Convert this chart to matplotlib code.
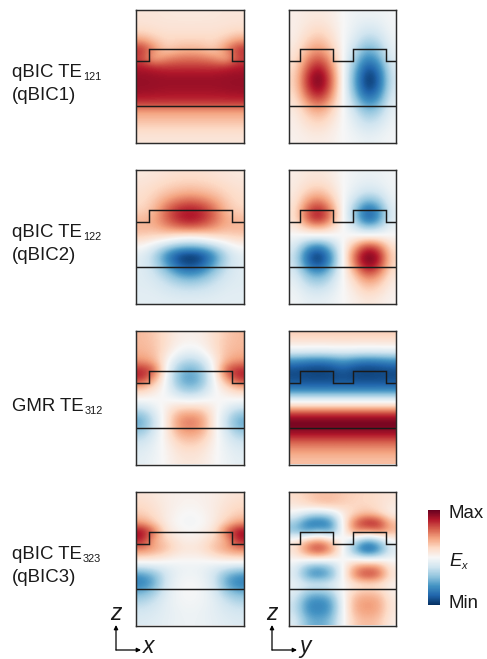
"""
Mode profiles of Ex for the qBIC / GMR resonances, xz and yz cuts.
Field grids are coarse readings from the figure (-1 = Min, 1 = Max).
"""
import matplotlib
matplotlib.use("Agg")
import matplotlib.pyplot as plt
from matplotlib.cm import ScalarMappable
from matplotlib.colors import Normalize
import numpy as np

plt.rcParams["font.family"] = ["Liberation Sans", "DejaVu Sans"]

W, H = 487, 659

qbic1_x = [
    [.12, .12, .11, .10, .10, .10, .11, .12, .12],
    [.14, .13, .12, .12, .12, .12, .12, .13, .14],
    [.20, .17, .15, .15, .15, .15, .15, .17, .20],
    [.42, .28, .20, .22, .22, .22, .20, .28, .42],
    [.75, .50, .24, .32, .34, .32, .24, .50, .75],
    [.66, .30, .46, .52, .54, .52, .46, .30, .66],
    [.80, .76, .72, .72, .72, .72, .72, .76, .80],
    [.87, .86, .85, .85, .85, .85, .85, .86, .87],
    [.88, .87, .86, .86, .86, .86, .86, .87, .88],
    [.84, .83, .82, .82, .82, .82, .82, .83, .84],
    [.72, .72, .72, .72, .72, .72, .72, .72, .72],
    [.40, .40, .40, .40, .40, .40, .40, .40, .40],
    [.30, .30, .30, .30, .30, .30, .30, .30, .30],
    [.19, .19, .19, .19, .19, .19, .19, .19, .19],
    [.12, .12, .12, .12, .12, .12, .12, .12, .12],
]
qbic1_y = [
    [.06, .09, .10, .08, .00, -.05, -.05, -.05, -.02],
    [.06, .11, .14, .10, .00, -.07, -.11, -.09, -.02],
    [.06, .15, .22, .14, .00, -.10, -.20, -.16, -.03],
    [.07, .23, .32, .20, .00, -.16, -.33, -.26, -.05],
    [.10, .33, .46, .28, .00, -.24, -.50, -.38, -.07],
    [.13, .45, .64, .38, .00, -.33, -.68, -.52, -.10],
    [.17, .60, .84, .50, .00, -.44, -.88, -.70, -.14],
    [.20, .72, 1.0, .60, .00, -.52, -1.0, -.82, -.17],
    [.20, .72, 1.0, .60, .00, -.52, -1.0, -.82, -.17],
    [.17, .60, .84, .50, .00, -.44, -.86, -.68, -.14],
    [.12, .42, .60, .36, .00, -.31, -.64, -.50, -.10],
    [.08, .27, .38, .23, .00, -.20, -.42, -.33, -.07],
    [.06, .18, .25, .15, .00, -.13, -.27, -.21, -.05],
    [.05, .11, .15, .09, .00, -.08, -.16, -.12, -.03],
    [.04, .07, .08, .06, .00, -.04, -.08, -.06, -.02],
]
qbic2_x = [
    [.10, .12, .14, .16, .16, .16, .14, .12, .10],
    [.13, .16, .20, .23, .24, .23, .20, .16, .13],
    [.16, .21, .28, .33, .36, .33, .28, .21, .16],
    [.18, .27, .42, .55, .60, .55, .42, .27, .18],
    [.22, .32, .58, .76, .82, .76, .58, .32, .22],
    [.32, .38, .58, .76, .84, .76, .58, .38, .32],
    [.34, .34, .44, .52, .56, .52, .44, .34, .34],
    [.22, .18, .14, .06, .02, .06, .14, .18, .22],
    [.02, -.10, -.26, -.38, -.42, -.38, -.26, -.10, .02],
    [-.10, -.28, -.62, -.90, -.98, -.90, -.62, -.28, -.10],
    [-.12, -.26, -.56, -.84, -.95, -.84, -.56, -.26, -.12],
    [-.12, -.20, -.36, -.58, -.66, -.58, -.36, -.20, -.12],
    [-.12, -.15, -.23, -.33, -.38, -.33, -.23, -.15, -.12],
    [-.11, -.12, -.16, -.19, -.21, -.19, -.16, -.12, -.11],
    [-.10, -.10, -.11, -.12, -.12, -.12, -.11, -.10, -.10],
]
qbic2_y = [
    [.07, .11, .12, .09, .00, -.05, -.07, -.06, -.03],
    [.08, .15, .18, .13, .00, -.07, -.11, -.09, -.03],
    [.09, .25, .32, .20, .00, -.12, -.22, -.18, -.04],
    [.11, .42, .56, .33, .00, -.24, -.50, -.38, -.06],
    [.14, .62, .82, .50, .00, -.38, -.84, -.62, -.10],
    [.14, .60, .82, .48, .00, -.36, -.84, -.60, -.10],
    [.08, .25, .32, .20, .00, -.15, -.34, -.25, -.05],
    [-.03, -.07, -.08, -.05, .00, .04, .08, .06, .02],
    [-.13, -.50, -.66, -.38, .00, .36, .68, .55, .13],
    [-.20, -.78, -1.0, -.62, .00, .60, 1.0, .84, .20],
    [-.19, -.72, -.95, -.58, .00, .54, .98, .78, .19],
    [-.13, -.46, -.60, -.36, .00, .33, .68, .52, .13],
    [-.08, -.28, -.36, -.22, .00, .19, .40, .31, .08],
    [-.05, -.16, -.20, -.13, .00, .11, .24, .18, .05],
    [-.03, -.09, -.10, -.07, .00, .06, .12, .09, .03],
]
gmr_x = [
    [.32, .26, .16, .07, .05, .07, .16, .26, .32],
    [.32, .28, .16, .05, .02, .05, .16, .28, .32],
    [.35, .30, .13, -.03, -.10, -.03, .13, .30, .35],
    [.45, .36, .05, -.22, -.32, -.22, .05, .36, .45],
    [.78, .65, .00, -.38, -.52, -.38, .00, .65, .78],
    [.75, .40, -.03, -.44, -.58, -.44, -.03, .40, .75],
    [.30, .15, -.03, -.32, -.44, -.32, -.03, .15, .30],
    [.05, .02, -.01, -.10, -.15, -.10, -.01, .02, .05],
    [-.15, -.06, .05, .14, .14, .14, .05, -.06, -.15],
    [-.42, -.18, .08, .38, .44, .38, .08, -.18, -.42],
    [-.52, -.22, .08, .45, .55, .45, .08, -.22, -.52],
    [-.35, -.15, .07, .36, .42, .36, .07, -.15, -.35],
    [-.20, -.10, .05, .22, .28, .22, .05, -.10, -.20],
    [-.13, -.07, .03, .14, .17, .14, .03, -.07, -.13],
    [-.10, -.05, .02, .10, .12, .10, .02, -.05, -.10],
]
gmr_y = [
    [.24, .24, .24, .24, .24, .24, .24, .24, .24],
    [.10, .10, .10, .10, .11, .10, .10, .10, .10],
    [-.15, -.15, -.16, -.15, -.14, -.15, -.16, -.15, -.15],
    [-.66, -.72, -.74, -.70, -.60, -.70, -.74, -.72, -.66],
    [-.90, -.92, -.94, -.92, -.84, -.92, -.94, -.92, -.90],
    [-.88, -.90, -.90, -.90, -.88, -.90, -.90, -.90, -.88],
    [-.75, -.75, -.75, -.75, -.75, -.75, -.75, -.75, -.75],
    [-.25, -.25, -.25, -.25, -.25, -.25, -.25, -.25, -.25],
    [.20, .20, .20, .20, .20, .20, .20, .20, .20],
    [.78, .78, .78, .78, .78, .78, .78, .78, .78],
    [1.0, 1.0, 1.0, 1.0, 1.0, 1.0, 1.0, 1.0, 1.0],
    [.86, .86, .86, .86, .86, .86, .86, .86, .86],
    [.60, .60, .60, .60, .60, .60, .60, .60, .60],
    [.42, .42, .42, .42, .42, .42, .42, .42, .42],
    [.30, .30, .30, .30, .30, .30, .30, .30, .30],
]
qbic3_x = [
    [.14, .11, .07, .05, .04, .05, .07, .11, .14],
    [.19, .14, .08, .04, .03, .04, .08, .14, .19],
    [.24, .17, .08, .02, -.01, .02, .08, .17, .24],
    [.40, .24, .08, .00, -.04, .00, .08, .24, .40],
    [.88, .58, .12, .04, .00, .04, .12, .58, .88],
    [.80, .34, .24, .10, .06, .10, .24, .34, .80],
    [.50, .42, .30, .15, .12, .15, .30, .42, .50],
    [.18, .15, .09, .04, .03, .04, .09, .15, .18],
    [-.22, -.16, -.12, -.07, -.05, -.07, -.12, -.16, -.22],
    [-.62, -.48, -.18, -.06, -.03, -.06, -.18, -.48, -.62],
    [-.68, -.50, -.16, -.04, .00, -.04, -.16, -.50, -.68],
    [-.44, -.32, -.12, -.03, .00, -.03, -.12, -.32, -.44],
    [-.28, -.20, -.10, -.04, -.02, -.04, -.10, -.20, -.28],
    [-.18, -.15, -.10, -.06, -.04, -.06, -.10, -.15, -.18],
    [-.14, -.12, -.09, -.06, -.05, -.06, -.09, -.12, -.14],
]
qbic3_y = [
    [.18, .24, .30, .30, .26, .22, .20, .16, .12],
    [.12, .20, .28, .30, .24, .20, .20, .16, .10],
    [-.02, -.18, -.26, -.18, .06, .22, .30, .20, .04],
    [-.34, -.70, -.78, -.66, .04, .58, .84, .78, .30],
    [-.42, -.58, -.40, -.56, .02, .50, .42, .55, .35],
    [.08, .30, .42, .22, .00, -.20, -.50, -.34, .02],
    [.14, .56, .78, .48, .00, -.52, -.92, -.66, -.14],
    [.05, .14, .16, .10, .00, -.08, -.18, -.14, -.03],
    [-.09, -.44, -.54, -.38, .00, .42, .54, .48, .08],
    [-.12, -.54, -.64, -.48, .00, .52, .70, .60, .12],
    [-.05, -.12, -.12, -.10, .00, .08, .12, .10, .03],
    [-.12, -.42, -.48, -.38, .00, .28, .34, .30, .07],
    [-.20, -.62, -.68, -.58, -.03, .38, .44, .40, .10],
    [-.20, -.60, -.66, -.56, -.03, .36, .42, .38, .10],
    [-.12, -.45, -.52, -.42, -.02, .26, .32, .28, .07],
]

row_labels = [("qBIC TE", "121", "(qBIC1)"), ("qBIC TE", "122", "(qBIC2)"),
              ("GMR TE", "312", None), ("qBIC TE", "323", "(qBIC3)")]
fields = [(qbic1_x, qbic1_y), (qbic2_x, qbic2_y), (gmr_x, gmr_y), (qbic3_x, qbic3_y)]

# outline of the grating and the layer below, panel units
outline_x_xcut = [0, 13, 13, 96, 96, 108]
outline_x_ycut = [0, 11, 11, 44, 44, 65, 65, 98, 98, 108]
outline_z_xcut = [51.5, 51.5, 39.5, 39.5, 51.5, 51.5]
outline_z_ycut = [51.5, 51.5, 39.5, 39.5, 51.5, 51.5, 39.5, 39.5, 51.5, 51.5]
substrate_z = 96.5

row_tops = [9.5, 170, 331, 492]
col_lefts = [136, 288.5]
panel_w, panel_h = 108, 133.5
label_y = [77, 237, 411, 559]

cmap = "RdBu_r"
norm = Normalize(-1, 1)


def px_axes(fig, left, top, width, height):
    return fig.add_axes([left / W, 1 - (top + height) / H, width / W, height / H])


def draw_panel(ax, field, xs, zs):
    ax.imshow(np.array(field), cmap=cmap, norm=norm, interpolation="bicubic",
              extent=(0, 108, 133.5, 0), aspect="auto")
    ax.plot(xs, zs, color="#1a1a1a", lw=1.05, solid_joinstyle="miter")
    ax.plot([0, 108], [substrate_z, substrate_z], color="#1a1a1a", lw=1.05)
    ax.set_xlim(0, 108)
    ax.set_ylim(133.5, 0)
    ax.set_xticks([])
    ax.set_yticks([])
    for s in ax.spines.values():
        s.set_linewidth(1.05)
        s.set_color("#2b2b2b")


fig = plt.figure(figsize=(W / 100, H / 100), dpi=100)

for top, (fx, fy) in zip(row_tops, fields):
    draw_panel(px_axes(fig, col_lefts[0], top, panel_w, panel_h), fx, outline_x_xcut, outline_z_xcut)
    draw_panel(px_axes(fig, col_lefts[1], top, panel_w, panel_h), fy, outline_x_ycut, outline_z_ycut)

cax = px_axes(fig, 428, 510, 12, 95)
cb = fig.colorbar(ScalarMappable(norm=norm, cmap=cmap), cax=cax)
cb.set_ticks([])
cb.outline.set_visible(False)

# everything else sits on a full-figure layer in pixel coordinates
over = fig.add_axes([0, 0, 1, 1])
over.set_xlim(0, W)
over.set_ylim(H, 0)
over.axis("off")
over.patch.set_alpha(0)

FS = 13.4
for y, (name, sub, second) in zip(label_y, row_labels):
    t = over.text(12, y, name, fontsize=FS, va="baseline", color="#1a1a1a")
    fig.canvas.draw()
    x_end = t.get_window_extent().x1
    over.text(x_end + 1, y + 3, sub, fontsize=7.9, va="baseline", color="#1a1a1a")
    if second:
        over.text(12, y + 23, second, fontsize=FS, va="baseline", color="#1a1a1a")

over.text(449, 518, "Max", fontsize=FS, va="baseline", color="#1a1a1a")
over.text(449, 608, "Min", fontsize=FS, va="baseline", color="#1a1a1a")
over.text(449, 566, "E", fontsize=FS, style="italic", va="baseline", color="#1a1a1a")
over.text(461, 569, "x", fontsize=7.9, style="italic", va="baseline", color="#1a1a1a")

for x0, name in [(116, "x"), (272, "y")]:
    arrow = dict(arrowstyle="-|>", color="black", lw=0.9, mutation_scale=6, shrinkA=0, shrinkB=0)
    over.annotate("", xy=(x0, 625), xytext=(x0, 650), arrowprops=arrow)
    over.annotate("", xy=(x0 + 25, 650), xytext=(x0, 650), arrowprops=arrow)
    over.text(x0, 620, "z", fontsize=FS + 3, style="italic", ha="center", va="baseline", color="#1a1a1a")
    over.text(x0 + 27, 653, name, fontsize=FS + 3, style="italic", va="baseline", color="#1a1a1a")

fig.savefig("out.png", dpi=100)
plt.close(fig)
